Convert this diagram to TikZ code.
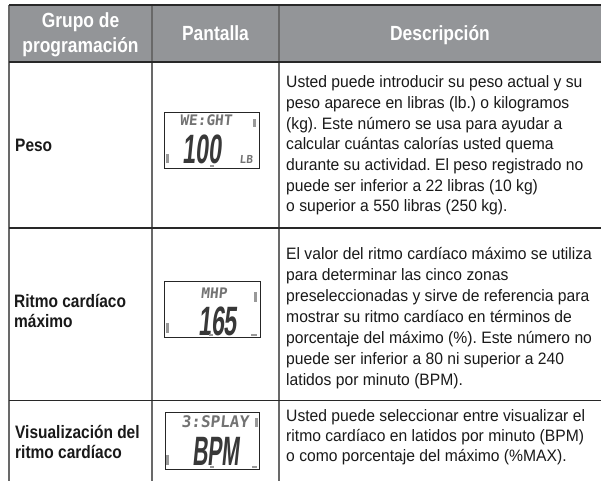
\documentclass[tikz,border=0pt]{standalone}
\usepackage{fontspec}
\newfontfamily\bodyf{Liberation Sans}[FakeStretch=0.95]
\newfontfamily\labf{Liberation Sans}[FakeStretch=0.86]
\newfontfamily\headf{Liberation Sans}[FakeStretch=0.85]
\newfontfamily\lcdf{Liberation Sans}[FakeStretch=0.57,FakeSlant=0.1]
\newfontfamily\lcdnf{Liberation Sans}[FakeStretch=0.52,FakeSlant=0.1]
\newfontfamily\lcdmf{DejaVu Sans Mono}[FakeSlant=0.1]
\definecolor{hdrgray}{RGB}{147,149,152}
\definecolor{hline}{RGB}{40,40,40}
\definecolor{vline}{RGB}{105,105,105}
\frenchspacing
\tikzset{
  hgrid/.style={draw=hline,line width=1.2pt},
  vgrid/.style={draw=vline,line width=1.2pt},
  hdrtext/.style={inner sep=0pt,anchor=base,text=white,font=\headf\bfseries\fontsize{20.5}{24}\selectfont},
  desc/.style={inner sep=0pt,anchor=base west,text=black!90,font=\bodyf\frenchspacing\fontsize{16.5}{19}\selectfont},
  lab/.style={inner sep=0pt,anchor=base west,text=black!90,font=\labf\bfseries\fontsize{18}{20}\selectfont},
  lcdbox/.style={draw=black!85,line width=0.8pt,fill=white,inner sep=0pt},
  lcdsmall/.style={inner sep=0pt,anchor=base,text height=9pt,text depth=0pt,text=black!55,font=\lcdmf\bfseries\fontsize{14.5}{14.5}\selectfont},
  lcdbig/.style={inner sep=0pt,anchor=base,text height=28pt,text depth=0pt,text=black!78,font=\lcdf\bfseries\fontsize{41}{41}\selectfont},
  lcdmark/.style={fill=black!40,draw=none}
}
\begin{document}
\begin{tikzpicture}[x=1pt,y=-1pt]
\useasboundingbox (0,0) rectangle (601,481);
% header
\fill[hdrgray] (9,5) rectangle (601,62);
% grid
\draw[vgrid] (9,5) -- (9,481);
\draw[vgrid] (152,5) -- (152,481);
\draw[vgrid] (279,5) -- (279,481);
\draw[hgrid] (9,5) -- (601,5);
\draw[hgrid] (9,62) -- (601,62);
\draw[hgrid] (9,228) -- (601,228);
\draw[hgrid] (9,400.5) -- (601,400.5);
% header texts
\node[hdrtext] (h1a) at (80.5,28) {Grupo de};
\node[hdrtext] (h1b) at (80.5,53) {programación};
\node[hdrtext] (h2) at (215.5,41) {Pantalla};
\node[hdrtext] (h3) at (440,41) {Descripción};
% row labels
\node[lab] (l1) at (15,151) {Peso};
\node[lab] (l2a) at (14,307) {Ritmo cardíaco};
\node[lab] (l2b) at (14,327) {máximo};
\node[lab] (l3a) at (15,438) {Visualización del};
\node[lab] (l3b) at (15,458) {ritmo cardíaco};
% descriptions
\foreach \t [count=\i] in {{Usted puede introducir su peso actual y su},{peso aparece en libras (lb.) o kilogramos},{(kg). Este número se usa para ayudar a},{calcular cuántas calorías usted quema},{durante su actividad. El peso registrado no},{puede ser inferior a 22 libras (10 kg)},{o superior a 550 libras (250 kg).}}
  \node[desc] (da\i) at (286,{88+(\i-1)*20.6}) {\t};
\foreach \t [count=\i] in {{El valor del ritmo cardíaco máximo se utiliza},{para determinar las cinco zonas},{preseleccionadas y sirve de referencia para},{mostrar su ritmo cardíaco en términos de},{porcentaje del máximo (\%). Este número no},{puede ser inferior a 80 ni superior a 240},{latidos por minuto (BPM).}}
  \node[desc] (db\i) at (286,{259+(\i-1)*21}) {\t};
\foreach \t [count=\i] in {{Usted puede seleccionar entre visualizar el},{ritmo cardíaco en latidos por minuto (BPM)},{o como porcentaje del máximo (\%MAX).}}
  \node[desc] (dc\i) at (286,{421.7+(\i-1)*20}) {\t};
% LCD 1
\node[lcdbox,minimum width=95pt,minimum height=56pt] (lcd1) at (211.5,140) {};
\node[lcdsmall] (lcd1t) at (206,126) {WE:GHT};
\node[lcdbig] (lcd1n) at (202,163) {100};
\node[lcdsmall,text height=8pt,font=\lcdmf\bfseries\fontsize{11}{11}\selectfont] (lcd1u) at (246,163) {LB};
\fill[lcdmark] (253,119) rectangle (256,127);
\fill[lcdmark] (166,154) rectangle (168.5,163);
\fill[lcdmark] (210,165) rectangle (214,167);
% LCD 2
\node[lcdbox,minimum width=96pt,minimum height=56pt] (lcd2) at (212,309) {};
\node[lcdsmall] (lcd2t) at (214,298.5) {MHP};
\node[lcdbig] (lcd2n) at (217.5,335) {165};
\fill[lcdmark] (254,292) rectangle (257,302);
\fill[lcdmark] (166,323) rectangle (168.5,333);
\fill[lcdmark] (209,334) rectangle (213,336);
\fill[lcdmark] (251,334) rectangle (257,336);
% LCD 3
\node[lcdbox,minimum width=94pt,minimum height=57pt] (lcd3) at (212,440.5) {};
\node[lcdsmall,font=\lcdmf\bfseries\fontsize{16}{16}\selectfont] (lcd3t) at (215,427.5) {3:SPLAY};
\node[lcdbig,font=\lcdnf\bfseries\fontsize{41}{41}\selectfont] (lcd3n) at (216,465.5) {BPM};
\fill[lcdmark] (255,418) rectangle (258,427);
\fill[lcdmark] (166,455) rectangle (168.5,465);
\fill[lcdmark] (210,466) rectangle (214,468);
\fill[lcdmark] (252,466) rectangle (257,468);
\end{tikzpicture}
\end{document}
